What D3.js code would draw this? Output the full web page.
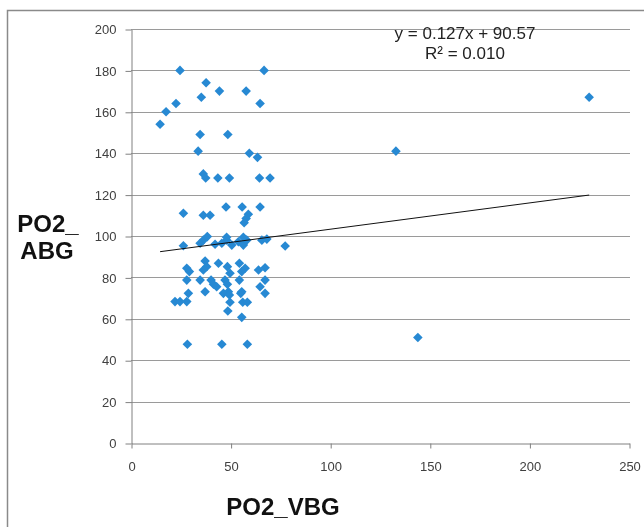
<!DOCTYPE html>
<html>
<head lang="en">
    <meta charset="UTF-8">
    <title>PO2 VBG vs ABG</title>
    <script src="https://cdn.jsdelivr.net/npm/d3@7/dist/d3.min.js"></script>
    <style>
        *{ margin:0; padding:0; }
        body{ background:#fff; }
    </style>
</head>
<body>
<div id="mychart" style="width:644px;height:527px;position:fixed;left:0;top:0"></div>
<script>
    // PO2_VBG (x) and PO2_ABG (y)
    var vbg = [24.6, 66.8, 37.7, 44.4, 57.8, 35.3, 22.6, 64.8, 17.6, 14.6,
               34.7, 48.6, 33.7, 59.4, 63.5, 36.3, 37.5, 43.6, 49.4, 64.5,
               69.8, 26.3, 36.3, 39.7, 47.7, 55.8, 64.8, 58.9, 57.8, 56.8,
               26.3, 36.3, 38.3, 34.7, 45.6, 48.1, 50.6, 53.9, 56.4, 58.1,
               65.7, 68.2, 42.2, 48.0, 56.4, 37.2, 38.0, 28.0, 29.3, 36.3,
               43.9, 48.4, 49.7, 54.4, 57.3, 55.6, 64.0, 67.3, 28.0, 34.7,
               40.2, 41.4, 47.2, 48.4, 54.4, 64.8, 67.3, 28.8, 37.2, 48.9,
               55.6, 43.0, 46.4, 49.4, 55.1, 67.3, 22.1, 24.6, 28.0, 49.7,
               56.1, 58.4, 48.6, 55.6, 28.3, 45.6, 58.4, 77.4, 133, 144, 230];
    var abg = [180, 180, 174, 170, 170, 167, 164, 164, 160, 154,
               149, 149, 141, 140, 138, 130, 128, 128, 128, 128,
               128, 111, 110, 110, 114, 114, 114, 110.5, 108.5, 106.4,
               95.3, 98, 99.7, 96.5, 96.5, 98, 95.6, 97.2, 95.6, 98,
               98, 98.5, 96, 99.4, 99.4, 87.9, 85.2, 84.4, 82.8, 83.6,
               86.8, 85.2, 82, 86.8, 84.4, 82.8, 83.6, 84.7, 78.7, 78.7,
               78.7, 76.7, 78.7, 76.7, 78.7, 75.5, 78.7, 72.3, 73.1, 73.1,
               73.1, 75.5, 72.3, 71.5, 72.3, 72.3, 68.3, 68.3, 68.3, 68,
               68, 68, 63.8, 60.7, 47.7, 47.7, 47.7, 95.2, 141, 51, 167];
    var xticks = [0, 50, 100, 150, 200, 250];
    var yticks = [0, 20, 40, 60, 80, 100, 120, 140, 160, 180, 200];
    // trendline as printed on the chart
    var slope = 0.127, intercept = 90.57;
    var eqLines = ["y = 0.127x + 90.57", "R\u00b2 = 0.010"];

    drawScatter("mychart");

    function drawScatter(divname){
        var _svg = d3.select("#"+divname)
                .append("svg")
                .attr("width",644)
                .attr("height",527);

        // outer frame (cut off by the picture at right/bottom)
        _svg.append("rect")
                .attr("x",7.5).attr("y",10.5)
                .attr("width",700).attr("height",600)
                .attr("fill","none")
                .attr("stroke","#8a8a8a")
                .attr("stroke-width",1.5);

        var _xscale = d3.scaleLinear().domain([0,250]).range([131,629]);
        var _yscale = d3.scaleLinear().domain([0,200]).range([443,29]);

        // horizontal gridlines
        _svg.append("g")
                .selectAll("line")
                .data(yticks.filter(function(d){return d>0;}))
                .enter()
                .append("line")
                .attr("x1",_xscale(0))
                .attr("x2",_xscale(250)+1)
                .attr("y1",function(d){return Math.round(_yscale(d))+0.5;})
                .attr("y2",function(d){return Math.round(_yscale(d))+0.5;})
                .attr("stroke","#9a9a9a")
                .attr("stroke-width",1);

        var _yaxis = d3.axisLeft(_yscale)
                .tickValues(yticks)
                .tickSize(6)
                .tickSizeOuter(0)
                .tickPadding(9);
        var _gy = _svg.append("g")
                .attr("transform","translate("+(_xscale(0)+0.5)+",0.5)")
                .call(_yaxis);

        var _xaxis = d3.axisBottom(_xscale)
                .tickValues(xticks)
                .tickSize(5)
                .tickSizeOuter(0)
                .tickPadding(13);
        var _gx = _svg.append("g")
                .attr("transform","translate(0.5,"+(_yscale(0)+0.5)+")")
                .call(_xaxis);

        [_gx,_gy].forEach(function(g){
            g.select(".domain").attr("stroke","#808080");
            g.selectAll(".tick line").attr("stroke","#808080");
            g.selectAll(".tick text")
                    .attr("fill","#404040")
                    .style("font-family","'Liberation Sans', Arial, sans-serif")
                    .style("font-size","13px");
        });

        // points: Excel style diamonds
        var dataset = d3.zip(vbg,abg);
        var _sym = d3.symbol().type(d3.symbolSquare).size(46);
        _svg.append("g")
                .selectAll("path")
                .data(dataset)
                .enter()
                .append("path")
                .attr("d",_sym)
                .attr("transform",function(d){
                    return "translate("+_xscale(d[0])+","+_yscale(d[1])+") rotate(45)";
                })
                .attr("fill","#2789d3");

        // linear trendline over the data range
        var _x0 = d3.min(vbg), _x1 = d3.max(vbg);
        _svg.append("line")
                .attr("x1",_xscale(_x0))
                .attr("y1",_yscale(slope*_x0+intercept))
                .attr("x2",_xscale(_x1))
                .attr("y2",_yscale(slope*_x1+intercept))
                .attr("stroke","#111")
                .attr("stroke-width",1);

        // equation label
        _svg.append("g")
                .selectAll("text")
                .data(eqLines)
                .enter()
                .append("text")
                .attr("x",465)
                .attr("y",function(d,i){return 39+i*20;})
                .attr("text-anchor","middle")
                .style("font-family","'Liberation Sans', Arial, sans-serif")
                .style("font-size","17px")
                .attr("fill","#222")
                .text(function(d){return d;});

        // axis titles
        _svg.append("text")
                .attr("x",283)
                .attr("y",515)
                .attr("text-anchor","middle")
                .style("font-family","'Liberation Sans', Arial, sans-serif")
                .style("font-size","24px")
                .style("font-weight","bold")
                .attr("fill","#111")
                .text("PO2_VBG");

        var _yt = _svg.append("text")
                .attr("text-anchor","middle")
                .style("font-family","'Liberation Sans', Arial, sans-serif")
                .style("font-size","24px")
                .style("font-weight","bold")
                .attr("fill","#111");
        _yt.append("tspan").attr("x",48).attr("y",232).text("PO2_");
        _yt.append("tspan").attr("x",47).attr("y",259).text("ABG");
    }
</script>
</body>
</html>
